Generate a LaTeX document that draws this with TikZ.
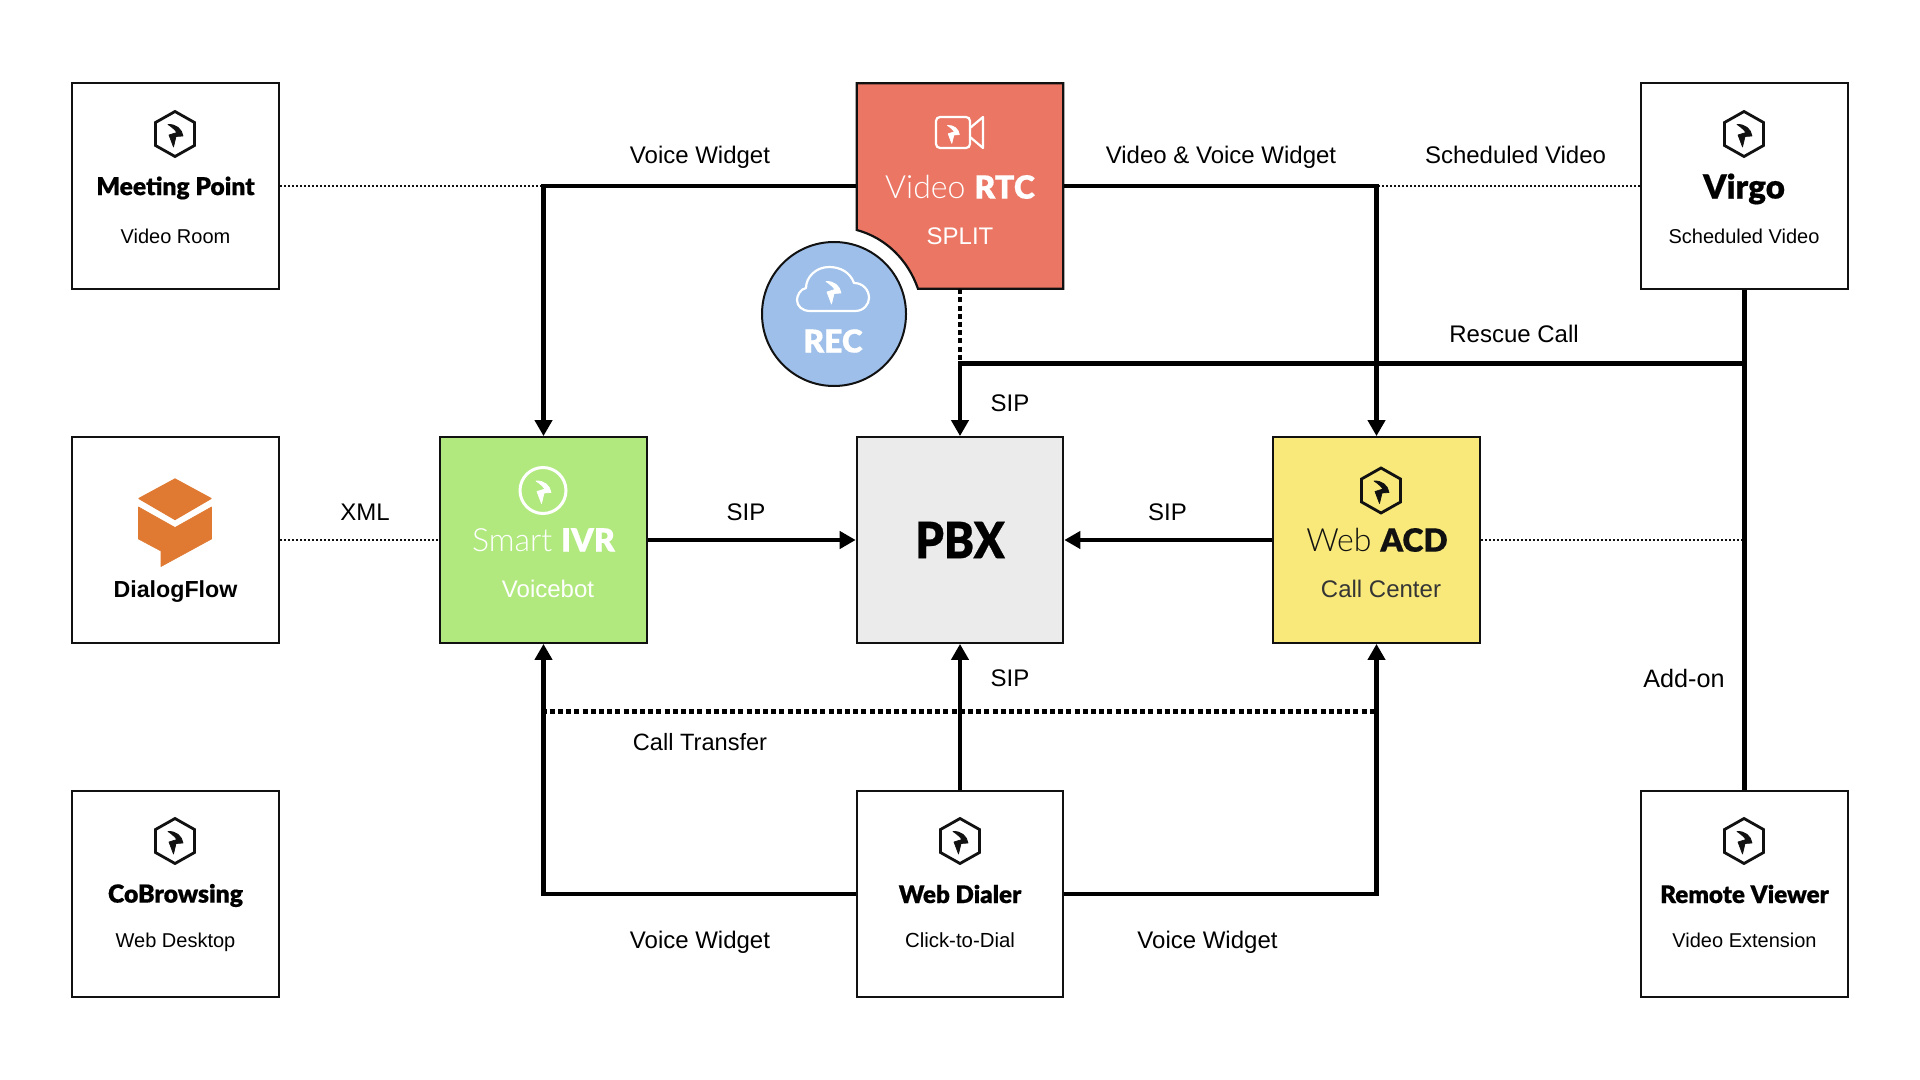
\documentclass[tikz,border=0pt]{standalone}
\usepackage{fontspec}
\usepackage{graphicx}
\usetikzlibrary{arrows.meta}
\setmainfont{Liberation Sans}
\newfontfamily\blk[FakeBold=0.5]{Lato Black}
\newfontfamily\lite{Lato Light}
\definecolor{ink}{HTML}{111111}
\definecolor{rtcred}{HTML}{EB7664}
\definecolor{ivrgreen}{HTML}{B1E97F}
\definecolor{acdyellow}{HTML}{F8E97A}
\definecolor{pbxgrey}{HTML}{EBEBEB}
\definecolor{recblue}{HTML}{9DBFE9}
\definecolor{dforange}{HTML}{E07A32}
\newcommand\fs[1]{\fontsize{#1}{#1}\selectfont}
\tikzset{
  x=0.5pt,y=-0.5pt,
  box/.style={draw=ink,line width=1.1pt,minimum width=103.2pt,minimum height=102.8pt,inner sep=0pt,fill=white},
  mainline/.style={draw=black,line width=2.2pt},
  tiparrow/.style={mainline,-{Triangle[length=8pt,width=8.5pt]}},
  thindot/.style={draw=ink,line width=1pt,dash pattern=on 1pt off 1pt},
  thickdot/.style={draw=black,line width=2.3pt,dash pattern=on 2.5pt off 1.6pt},
  lbl/.style={font=\fs{12},inner sep=0pt,text=black},
  sub/.style={font=\fs{10},inner sep=0pt,text=black},
  ttl/.style={font=\blk\fs{12.1},inner sep=0pt,text=black},
  glyph/.pic={\filldraw[line width=0.35pt,line join=round] (-7,-9.5) .. controls (1,-10) and (7,-5) .. (8,2) -- (1,2.5) -- (-1.5,13) -- (-6,1) -- (2,-1.5) .. controls (0,-4) and (-3,-7) .. cycle;},
  hexicon/.pic={\draw[line width=1.4pt,line join=miter] (0,-22.5) -- (19.5,-11.5) -- (19.5,11.5) -- (0,22.5) -- (-19.5,11.5) -- (-19.5,-11.5) -- cycle; \pic {glyph};},
}
\begin{document}
\begin{tikzpicture}
\useasboundingbox (0,0) rectangle (1920,1080);
\fill[white] (0,0) rectangle (1920,1080);
\node[box] (mp) at (175.5,186) {};
\node[box] (virgo) at (1744.5,186) {};
\node[box] (dlg) at (175.5,540) {};
\node[box] (cob) at (175.5,894) {};
\node[box] (dialer) at (960,894) {};
\node[box] (remote) at (1744.5,894) {};
\node[box,fill=ivrgreen] (ivr) at (543.5,540) {};
\node[box,fill=pbxgrey] (pbx) at (960,540) {};
\node[box,fill=acdyellow] (acd) at (1376.5,540) {};
\node[minimum width=103.2pt,minimum height=102.8pt,inner sep=0pt] (rtc) at (960,186) {};
\node[circle,draw=ink,line width=1pt,fill=recblue,minimum size=72pt,inner sep=0pt] (rec) at (834,314) {};
\fill[rtcred,draw=ink,line width=1.1pt] (856.8,83.2) -- (1063.2,83.2) -- (1063.2,288.8) -- (918,288.8)
  .. controls (908,260) and (886,238) .. (856.8,230) -- cycle;
\coordinate (jA) at (543.5,186);
\coordinate (jB) at (1376.5,186);
\coordinate (jC) at (960,363.5);
\coordinate (jD) at (1744.5,363.5);
\coordinate (jE) at (1744.5,540);
\coordinate (jF) at (541.5,711.5);
\coordinate (jG) at (1378,711.5);
\draw[thindot] (mp.east) -- (jA);
\draw[thindot] (virgo.west) -- (jB);
\draw[thindot] (dlg.east) -- (ivr.west);
\draw[thindot] (acd.east) -- (jE);
\draw[tiparrow] (rtc.west) -| (ivr.north);
\draw[tiparrow] (rtc.east) -| (acd.north);
\draw[thickdot] (rtc.south) -- (jC);
\draw[mainline] (virgo.south) -- (remote.north);
\draw[tiparrow] (jD) -| (pbx.north);
\draw[tiparrow] (ivr.east) -- (pbx.west);
\draw[tiparrow] (acd.west) -- (pbx.east);
\draw[tiparrow] (dialer.north) -- (pbx.south);
\draw[tiparrow] (dialer.west) -| (ivr.south);
\draw[tiparrow] (dialer.east) -| (acd.south);
\draw[thickdot] (jF) -- (jG);
% edge labels
\node[lbl] (l1) at (700,157.5) {Voice Widget};
\node[lbl] (l2) at (1221,157.5) {Video \& Voice Widget};
\node[lbl] (l3) at (1515.5,155) {Scheduled Video};
\node[lbl] (l4) at (1514,334) {Rescue Call};
\node[lbl] (l5) at (1010,403) {SIP};
\node[lbl] (l6) at (365,512) {XML};
\node[lbl] (l7) at (746,512) {SIP};
\node[lbl] (l8) at (1167.5,512) {SIP};
\node[lbl] (l9) at (1010,678.5) {SIP};
\node[lbl,font=\fs{12.6}] (l10) at (1684,678.5) {Add-on};
\node[lbl,font=\fs{11.8}] (l11) at (700,742) {Call Transfer};
\node[lbl] (l12) at (700,942.5) {Voice Widget};
\node[lbl] (l13) at (1207.5,942.5) {Voice Widget};
% white boxes
\pic[ink] at (175,134) {hexicon};
\node[ttl,font=\blk\fs{12.3}] (t1) at (175.5,188) {Meeting Point};
\node[sub] (s1) at (175.5,236) {Video Room};
\pic[ink] at (1744,134) {hexicon};
\node[ttl,font=\blk\fs{16.6}] (t2) at (1744,189) {Virgo};
\node[sub] (s2) at (1744,236) {Scheduled Video};
\pic[ink] at (175,841) {hexicon};
\node[ttl,font=\blk\fs{12.4}] (t3) at (175.5,895.5) {CoBrowsing};
\node[sub] (s3) at (175.5,942) {Web Desktop};
\pic[ink] at (960,841) {hexicon};
\node[ttl] (t4) at (960,894) {Web Dialer};
\node[sub,font=\fs{10.2}] (s4) at (960,940) {Click-to-Dial};
\pic[ink] at (1744,841) {hexicon};
\node[ttl] (t5) at (1744.5,894) {Remote Viewer};
\node[sub] (s5) at (1744.5,940) {Video Extension};
% DialogFlow
\fill[dforange,draw=dforange,line width=0.6pt,line join=round] (175,479) -- (211,498.5) -- (175,519.5) -- (139,498.5) -- cycle;
\fill[dforange,draw=dforange,line width=0.3pt,line join=round] (138.5,507) -- (175,527.5) -- (211.5,507) -- (211.5,539) -- (161,566.5) -- (161,551) -- (138.5,539) -- cycle;
\node[inner sep=0pt,font=\fs{11.6},text=black] (t6) at (175.5,591.5) {\textbf{DialogFlow}};
% Video RTC
\draw[white,line width=1.1pt,rounded corners=2pt] (936,117) rectangle (970,148);
\draw[white,line width=1.1pt,line join=round] (970,128) -- (983,117) -- (983,148) -- (970,137);
\begin{scope}[white]\pic[scale=0.8] at (953,133) {glyph};\end{scope}
\node[inner sep=0pt,text=white,font=\fs{16}] (t7) at (960,187) {{\lite Video} {\blk RTC}};
\node[inner sep=0pt,text=white,font=\fs{12}] (s7) at (960,236) {SPLIT};
% REC
\draw[white,line width=1.1pt,line join=round] (810,311) -- (855,311) .. controls (864,311) and (869,304) .. (869,298)
  .. controls (869,290) and (863,283) .. (854,283) .. controls (850,272) and (840,267) .. (829,267)
  .. controls (816,267) and (806,277) .. (806,288) .. controls (800,289) and (797,296) .. (797,300)
  .. controls (797,306) and (802,311) .. (810,311) -- cycle;
\begin{scope}[white]\pic at (833,291) {glyph};\end{scope}
\node[inner sep=0pt,text=white,font=\blk\fs{15.8}] (t8) at (833,341) {REC};
% IVR
\draw[white,line width=1.5pt] (543,490.5) circle (23);
\begin{scope}[white]\pic at (543,490.5) {glyph};\end{scope}
\node[inner sep=0pt,text=white,font=\fs{16}] (t9) at (543.5,540) {{\lite Smart} {\blk IVR}};
\node[inner sep=0pt,text=white,font=\fs{12}] (s9) at (548,589) {Voicebot};
% PBX
\node[inner sep=0pt,text=black,font=\blk\fs{25}] (t10) at (960,540) {\scalebox{0.9}[1]{PBX}};
% ACD
\pic[ink] at (1381,490.5) {hexicon};
\node[inner sep=0pt,text=ink,font=\fs{16}] (t11) at (1377,540) {{\lite Web} {\blk ACD}};
\node[inner sep=0pt,text=ink!85,font=\fs{12}] (s11) at (1381,589) {Call Center};
\end{tikzpicture}
\end{document}
